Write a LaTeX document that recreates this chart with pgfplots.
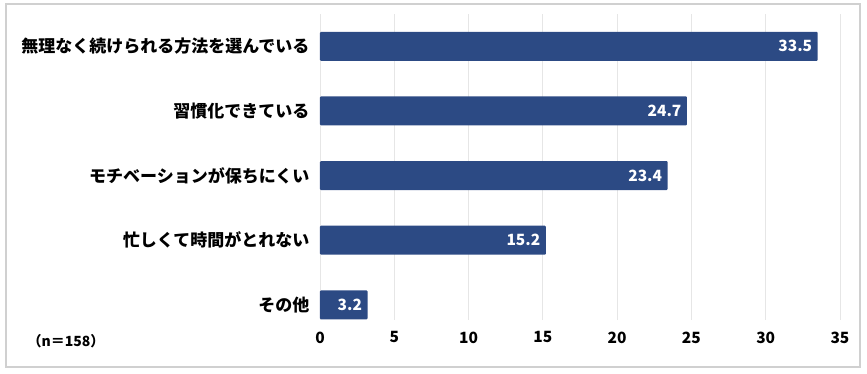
\documentclass[border=0pt]{standalone}
\usepackage{pgfplots}
\pgfplotsset{compat=1.18}
\usepackage{fontspec}
\setmainfont{Noto Sans CJK JP}
\definecolor{barblue}{HTML}{2C4A84}
\definecolor{gridgray}{HTML}{E6E6E6}
\definecolor{framegray}{HTML}{D0D0D0}
\begin{document}
\begin{tikzpicture}
\useasboundingbox (-320pt,-54pt) rectangle (547pt,320pt);
\draw[framegray, line width=1.5pt] (-314pt,-47pt) rectangle (540pt,316pt);
\begin{axis}[
  at={(0pt,0pt)}, anchor=south west,
  scale only axis, width=520pt, height=306pt,
  xbar, bar width=29pt,
  xmin=0, xmax=35, xtick={0,5,...,35},
  ymin=-0.5, ymax=4.235, y dir=reverse,
  ytick={0,1,2,3,4},
  yticklabels={無理なく続けられる方法を選んでいる,習慣化できている,モチベーションが保ちにくい,忙しくて時間がとれない,その他},
  axis line style={draw=none},
  major tick length=0pt,
  xmajorgrids, grid style={gridgray, line width=0.8pt},
  xticklabel style={font=\fontsize{15.5}{18}\selectfont\bfseries, yshift=-8pt},
  yticklabel style={font=\fontsize{17}{20}\selectfont\bfseries, xshift=-7pt},
  /pgf/number format/assume math mode=true,
  point meta=explicit symbolic,
  nodes near coords,
  nodes near coords style={anchor=east, white, font=\fontsize{15.5}{18}\selectfont\bfseries, xshift=-2pt},
  clip=false,
]
\addplot[fill=barblue, draw=none, rounded corners=1pt] coordinates {
 (33.5,0) [33.5]
 (24.7,1) [24.7]
 (23.4,2) [23.4]
 (15.2,3) [15.2]
 (3.2,4) [3.2]
};
\end{axis}
\node[anchor=center, font=\fontsize{14}{16}\selectfont\bfseries] at (-254pt,-21pt) {（n＝158）};
\end{tikzpicture}
\end{document}
